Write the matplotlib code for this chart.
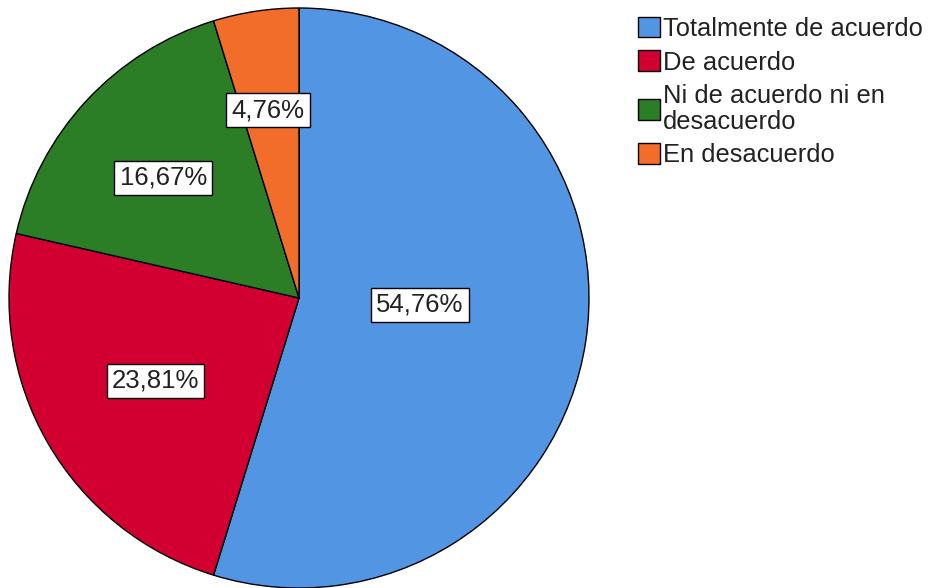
import numpy as np
import matplotlib.pyplot as plt
from matplotlib.patches import Patch

plt.rcParams['font.family'] = ['Liberation Sans', 'DejaVu Sans']

categories = ["Totalmente de acuerdo", "De acuerdo",
              "Ni de acuerdo ni en\ndesacuerdo", "En desacuerdo"]
values = [54.76, 23.81, 16.67, 4.76]
pct_labels = ["54,76%", "23,81%", "16,67%", "4,76%"]
colors = ["#5295E3", "#D20031", "#2B7D26", "#F26C2A"]
# label placement (fraction of radius, angle nudge in degrees)
label_dist = [0.418, 0.571, 0.625, 0.656]
label_nudge = [5.3, 0.0, 1.4, 0.8]

fig = plt.figure(figsize=(9.34, 5.88), dpi=100)
ax = fig.add_axes([9/934, 0, 580/934, 580/588])

wedges, _ = ax.pie(values, colors=colors, startangle=90, counterclock=False,
                   wedgeprops=dict(edgecolor="black", linewidth=1))
ax.set_xlim(-1, 1)
ax.set_ylim(-1, 1)
ax.set_aspect("equal")

for w, txt, d, nd in zip(wedges, pct_labels, label_dist, label_nudge):
    ang = np.deg2rad((w.theta1 + w.theta2) / 2 + nd)
    ax.text(d*np.cos(ang), d*np.sin(ang), txt, ha="center", va="center",
            fontsize=18.5, color="#222222",
            bbox=dict(boxstyle="square,pad=0.2", fc="white", ec="black", lw=1))

handles = [Patch(facecolor=c, edgecolor="black", linewidth=1) for c in colors]
leg = fig.legend(handles, categories, loc="upper left",
                 bbox_to_anchor=(638/934, 1 - 17/588), frameon=False,
                 fontsize=18.4, borderpad=0, handlelength=0.85, handleheight=0.85,
                 handletextpad=0.12, labelspacing=0.37, borderaxespad=0)
for t in leg.get_texts():
    t.set_linespacing(1.1)
    t.set_color("#222222")

plt.savefig("out.png", dpi=100, facecolor="white")
